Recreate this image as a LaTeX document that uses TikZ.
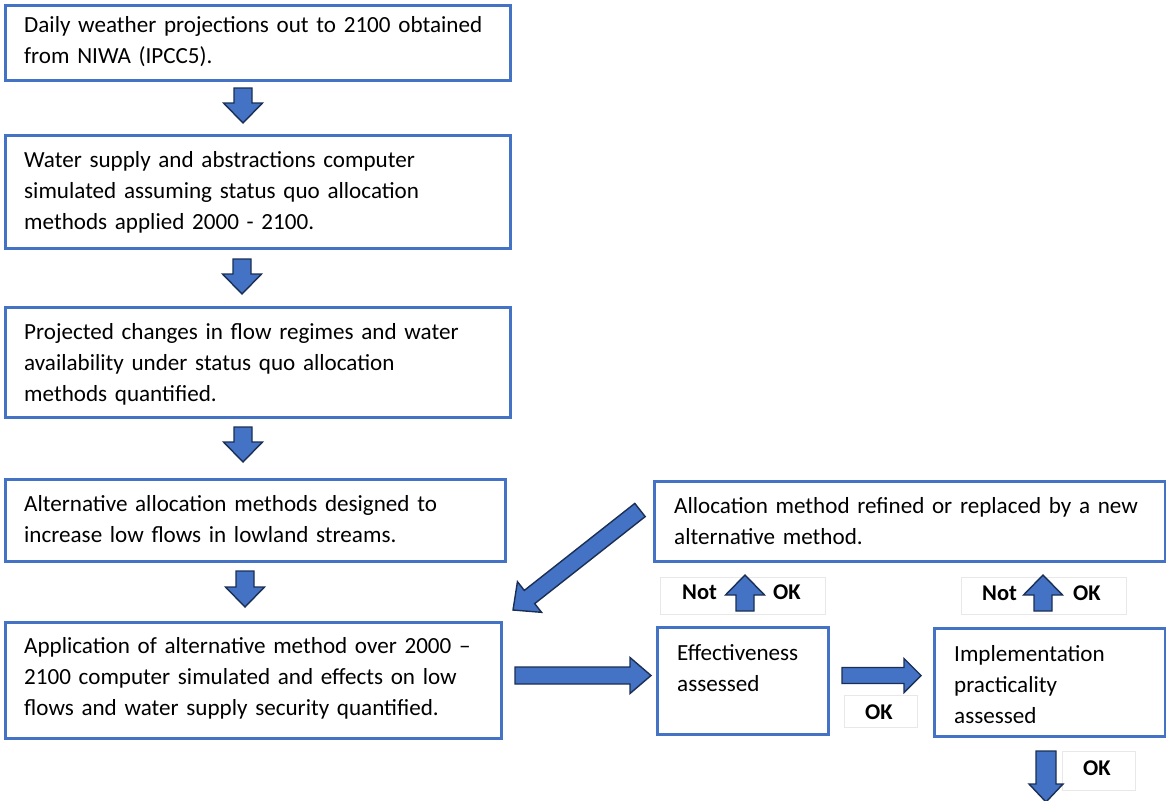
\documentclass[tikz,border=0pt]{standalone}
\usepackage{fontspec}
\setmainfont{Carlito}
\usetikzlibrary{calc}
\definecolor{boxblue}{HTML}{4472C4}
\definecolor{arrowedge}{HTML}{1B2F55}
\definecolor{faint}{HTML}{E8E8E8}
\tikzset{
  box/.style={draw=boxblue, line width=3pt, fill=white, anchor=north west, inner sep=0pt},
  lbox/.style={draw=faint, line width=0.8pt, fill=white, anchor=north west, inner sep=0pt},
  txt/.style={anchor=base west, inner sep=0pt, text width=500pt, align=left,
              font=\fontsize{23.1}{31}\selectfont},
  btxt/.style={anchor=base west, inner sep=0pt, font=\fontsize{22.5}{26}\selectfont\bfseries},
  arrowstyle/.style={fill=boxblue, draw=arrowedge, line width=1.4pt, line join=miter}
}
% #1 start coord, #2 tip coord, #3 shaft half width, #4 head half width, #5 head length
\newcommand\fatarrow[5]{%
  \draw[arrowstyle] ($(#1)!#3!90:(#2)$) -- ($(#2)!#5!(#1)!#3!-90:(#1)$)
    -- ($(#2)!#5!(#1)!#4!-90:(#1)$) -- (#2) -- ($(#2)!#5!(#1)!#4!90:(#1)$)
    -- ($(#2)!#5!(#1)!#3!90:(#1)$) -- ($(#1)!#3!-90:(#2)$) -- cycle;}
\newcommand\boxat[6][box]{%
  \node[#1, minimum width={#5-#3}, minimum height={#6-#4}] (#2) at (#3,#4) {};}
\begin{document}
\begin{tikzpicture}[x=1pt, y=-1pt]
\useasboundingbox[fill=white] (0,0) rectangle (1166,800);

% main boxes
\boxat{b1}{4}{4}{509}{79}
\boxat{b2}{4}{134}{509}{247}
\boxat{b3}{4}{306}{509}{416}
\boxat{b4}{4}{478}{504}{560}
\boxat{b5}{4}{621}{500}{737}
\boxat{b6}{653}{480}{1164}{560}
\boxat{b7}{656}{626}{827}{733}
\boxat{b8}{933}{627}{1164}{735}

% texts
\node[txt] (t1) at (24,33) {Daily weather projections out to 2100 obtained\\from NIWA (IPCC5).};
\node[txt] (t2) at (24,167) {Water supply and abstractions computer\\simulated assuming status quo allocation\\methods applied 2000 - 2100.};
\node[txt] (t3) at (24,339) {Projected changes in flow regimes and water\\availability under status quo allocation\\methods quantified.};
\node[txt] (t4) at (24,511) {Alternative allocation methods designed to\\increase low flows in lowland streams.};
\node[txt] (t5) at (24,653) {Application of alternative method over 2000 –\\2100 computer simulated and effects on low\\flows and water supply security quantified.};
\node[txt] (t6) at (674,513) {Allocation method refined or replaced by a new\\alternative method.};
\node[txt, text width=160pt] (t7) at (677,660) {Effectiveness\\assessed};
\node[txt, text width=200pt] (t8) at (954,661) {Implementation\\practicality\\assessed};

% label boxes
\boxat[lbox]{l1}{660}{577}{825}{614}
\boxat[lbox]{l2}{961}{577}{1126}{614}
\boxat[lbox]{l3}{844}{695}{917}{727}
\boxat[lbox]{l4}{1062}{751}{1135}{790}
\node[btxt] (n1) at (682,599) {Not};
\node[btxt] (o1) at (773,599) {OK};
\node[btxt] (n2) at (982,600) {Not};
\node[btxt] (o2) at (1073,600) {OK};
\node[btxt] (o3) at (865,719) {OK};
\node[btxt] (o4) at (1083,775) {OK};

% arrow end points
\coordinate (a1s) at ($(b1.south west)+(239,6)$);
\coordinate (a1e) at ($(b2.north west)+(239,-11)$);
\coordinate (a2s) at ($(b2.south west)+(238,9)$);
\coordinate (a2e) at ($(b3.north west)+(238,-12)$);
\coordinate (a3s) at ($(b3.south west)+(239,8)$);
\coordinate (a3e) at ($(b4.north west)+(239,-16)$);
\coordinate (a4s) at ($(b4.south west)+(241,8)$);
\coordinate (a4e) at ($(b5.north west)+(241,-14)$);
\coordinate (a5s) at (640,510);
\coordinate (a5e) at (513,610);
\coordinate (a6s) at ($(b5.east)+(12,-5)$);
\coordinate (a6e) at ($(b7.west)+(-5,-5.5)$);
\coordinate (a7s) at ($(b7.east)+(12,-5.5)$);
\coordinate (a7e) at ($(b8.west)+(-12,-7)$);
\coordinate (a8s) at ($(b7.north west)+(89,-15)$);
\coordinate (a8e) at ($(b6.south west)+(92,12)$);
\coordinate (a9s) at ($(b8.north west)+(110,-16)$);
\coordinate (a9e) at ($(b6.south west)+(390,12)$);
\coordinate (a10s) at ($(b8.south west)+(113,13)$);
\coordinate (a10e) at ($(b8.south west)+(113,64)$);

% block arrows
\fatarrow{a1s}{a1e}{9pt}{19.5pt}{20pt}
\fatarrow{a2s}{a2e}{9pt}{19.5pt}{20pt}
\fatarrow{a3s}{a3e}{9pt}{19.5pt}{20pt}
\fatarrow{a4s}{a4e}{9pt}{19.5pt}{20pt}
\fatarrow{a5s}{a5e}{8.4pt}{19.5pt}{21pt}
\fatarrow{a6s}{a6e}{8.5pt}{18pt}{21pt}
\fatarrow{a7s}{a7e}{8pt}{17pt}{17pt}
\fatarrow{a8s}{a8e}{9pt}{19.5pt}{20pt}
\fatarrow{a9s}{a9e}{9pt}{19.5pt}{20pt}
\fatarrow{a10s}{a10e}{10pt}{17pt}{18pt}
\end{tikzpicture}
\end{document}
